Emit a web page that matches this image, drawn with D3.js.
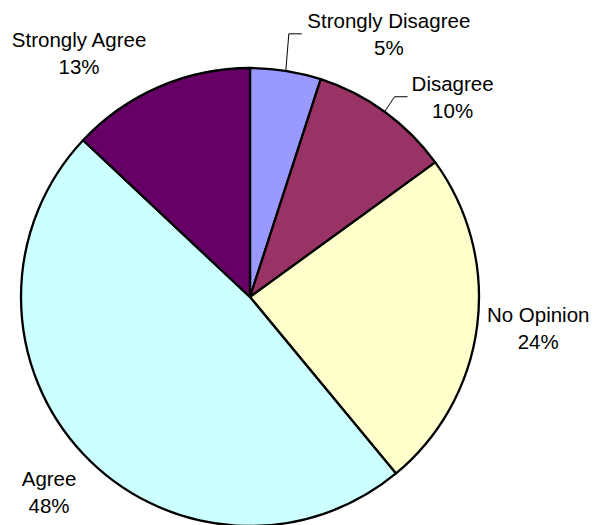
<html>
  <head>
    <meta charset="utf-8">
    <title>survey pie</title>
    <style>
      body { margin: 0; background: #fff; }
      svg { display: block; }
      text { font-family: "Liberation Sans", Arial, sans-serif; font-size: 20.5px; fill: #000; }
    </style>
    <script src="https://cdnjs.cloudflare.com/ajax/libs/d3/7.8.5/d3.min.js"></script>
  </head>
  <body>
    <svg></svg>
    <script>
const categories = ['Strongly Disagree', 'Disagree', 'No Opinion', 'Agree', 'Strongly Agree'];
const percents = [5, 10, 24, 48, 13];
const colors = ['#9999FF', '#993366', '#FFFFCC', '#CCFFFF', '#660066'];

// where each label sits, relative to the slice's outer edge point
const labelShift = [[103, -43], [68, -21], [61, -4], [-34, 32], [-80, -40]];
// leader lines (only the two small top slices have them)
const leaders = [[[3, -37], [16, -37]], [[10, -15], [23, -15]], null, null, null];

const width = 595;
const height = 525;
const cx = 250, cy = 297, radius = 229;

const data = categories.map((name, i) => ({ name, value: percents[i], color: colors[i], i }));

const svg = d3.select('svg')
  .attr('width', width)
  .attr('height', height)
  .append('g')
  .attr('transform', `translate(${cx},${cy})`);

const pie = d3.pie().sort(null).value(d => d.value);
const arc = d3.arc().innerRadius(0).outerRadius(radius);
const edge = d3.arc().innerRadius(radius).outerRadius(radius);

const arcs = pie(data);

svg.selectAll('path.slice')
  .data(arcs)
  .enter()
  .append('path')
  .attr('class', 'slice')
  .attr('d', arc)
  .style('fill', d => d.data.color)
  .style('stroke', '#000')
  .style('stroke-width', 2.3)
  .style('stroke-linejoin', 'round');

svg.selectAll('path.leader')
  .data(arcs.filter(d => leaders[d.data.i]))
  .enter()
  .append('path')
  .attr('class', 'leader')
  .attr('d', d => {
    const p = edge.centroid(d);
    const pts = [p].concat(leaders[d.data.i].map(s => [p[0] + s[0], p[1] + s[1]]));
    return d3.line()(pts);
  })
  .style('fill', 'none')
  .style('stroke', '#000')
  .style('stroke-width', 1);

const labels = svg.selectAll('text.lbl')
  .data(arcs)
  .enter()
  .append('text')
  .attr('class', 'lbl')
  .attr('text-anchor', 'middle')
  .attr('transform', d => {
    const p = edge.centroid(d);
    const s = labelShift[d.data.i];
    return `translate(${p[0] + s[0]},${p[1] + s[1]})`;
  });

labels.append('tspan')
  .attr('x', 0)
  .attr('y', 0)
  .text(d => d.data.name);

labels.append('tspan')
  .attr('x', 0)
  .attr('y', 27)
  .text(d => d.data.value + '%');
    </script>
  </body>
</html>
